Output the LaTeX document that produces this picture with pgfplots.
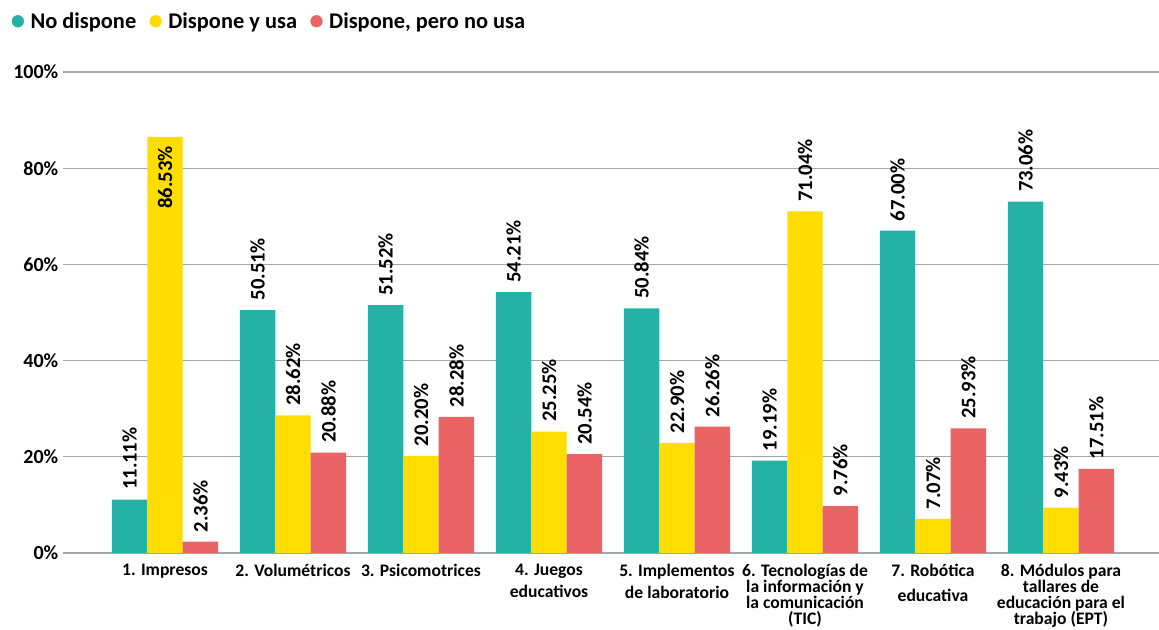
\documentclass[border=0pt]{standalone}
\usepackage{pgfplots}
\pgfplotsset{compat=1.18}
\usepackage{pgfplotstable}
\usepackage{fontspec}
\setmainfont{Carlito}

\definecolor{cteal}{HTML}{26B1A6}
\definecolor{cyellow}{HTML}{FFDD00}
\definecolor{cred}{HTML}{EA6466}
\definecolor{cgrid}{HTML}{A6A6A6}

% values per category (percent)
\pgfplotstableread{
x  nod    usa    nouse
0  11.11  86.53  2.36
1  50.51  28.62  20.88
2  51.52  20.20  28.28
3  54.21  25.25  20.54
4  50.84  22.90  26.26
5  19.19  71.04  9.76
6  67.00  7.07   25.93
7  73.06  9.43   17.51
}\datatable

% label goes inside the bar when the bar is very tall
\tikzset{labanc/.code={%
    \pgfkeys{/pgf/fpu=true,/pgf/fpu/output format=fixed}%
    \pgfmathparse{\rawy>80}%
    \pgfkeys{/pgf/fpu=false}%
    \ifdim\pgfmathresult pt>0.5pt \tikzset{anchor=east}\fi}}

\begin{document}
\begin{tikzpicture}
\begin{axis}[
    scale only axis,
    width=822pt, height=360.75pt,
    ybar=0pt, bar width=26.6pt,
    xmin=-0.797, xmax=7.766,
    ymin=0, ymax=100,
    axis line style={draw=none},
    major tick length=0pt,
    ymajorgrids, grid style={cgrid, line width=1pt},
    ytick={0,20,40,60,80,100},
    yticklabels={0\%,20\%,40\%,60\%,80\%,100\%},
    yticklabel style={font=\fontsize{15}{15}\selectfont\bfseries},
    xtick={0,...,7},
    xticklabels={
        1. Impresos,
        2. Volumétricos,
        3. Psicomotrices,
        4. Juegos\\[4.5pt]educativos,
        5. Implementos\\[4.5pt]de laboratorio,
        6. Tecnologías de\\la información y\\la comunicación\\(TIC),
        7. Robótica\\[6.5pt]educativa,
        8. Módulos para\\tallares de\\educación para el\\trabajo (EPT)},
    xticklabel style={align=center, font=\fontsize{13.2}{12}\selectfont\bfseries, yshift=-5pt},
    nodes near coords={\pgfmathprintnumber[fixed,fixed zerofill,precision=2]{\pgfplotspointmeta}\%},
    nodes near coords style={rotate=90, anchor=west, inner xsep=7pt, inner ysep=0pt,
        font=\fontsize{15.5}{15.5}\selectfont\bfseries, black},
    /pgf/number format/assume math mode=true,
    legend columns=3,
    legend style={draw=none, fill=none, at={(axis description cs:-0.047,1.13)}, anchor=north west,
        font=\fontsize{16.8}{16.8}\selectfont\bfseries, inner sep=0pt,
        /tikz/every even column/.append style={column sep=8pt}},
    legend image code/.code={\fill[#1] (0pt,0pt) circle (4.6pt); \path (7.5pt,0pt);},
]
\addplot[draw=none, fill=cteal] table[x=x, y=nod] {\datatable};
\addlegendentry{No dispone}
\addplot[draw=none, fill=cyellow,
    visualization depends on={y \as \rawy},
    nodes near coords style={labanc}] table[x=x, y=usa] {\datatable};
\addlegendentry{Dispone y usa}
\addplot[draw=none, fill=cred] table[x=x, y=nouse] {\datatable};
\addlegendentry{Dispone, pero no usa}
\end{axis}
\pgfresetboundingbox
\path (-47.25pt,-57.75pt) rectangle (822pt,414.75pt);
\end{tikzpicture}
\end{document}
